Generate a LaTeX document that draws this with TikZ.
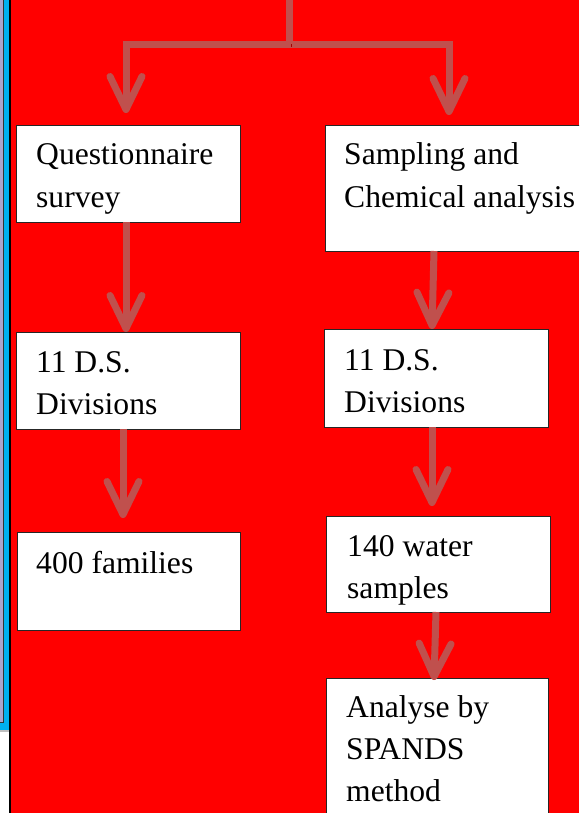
\documentclass[tikz,border=0pt]{standalone}
\usepackage{fontspec}
\setmainfont{Liberation Serif}
\usetikzlibrary{arrows.meta,calc}
\definecolor{bgred}{RGB}{255,0,0}
\definecolor{arr}{RGB}{192,80,77}
\definecolor{arrsh}{RGB}{165,0,0}
\definecolor{lav}{RGB}{172,164,204}
\definecolor{cyanb}{RGB}{0,176,240}
\begin{document}
\begin{tikzpicture}[x=1pt,y=1pt,
  box/.style={draw=black!85, line width=0.8pt, fill=white, anchor=north west, inner sep=0pt, outer sep=0pt},
  lbl/.style={anchor=base west, inner sep=0pt, text width=240pt, align=left, font=\fontsize{31.6}{42}\selectfont,
    execute at begin node={\spaceskip=0pt\relax\xspaceskip=0pt\relax}},
  stem/.style={line width=7pt, draw=arr, preaction={draw=arrsh, transform canvas={shift={(1.5pt,-2.5pt)}}}},
  flow/.style={stem, -{Straight Barb[length=33pt,width=32pt,round]}},
]
\useasboundingbox (0,0) rectangle (579,-813);
\clip (0,0) rectangle (579,-813);
% background
\fill[white] (0,0) rectangle (579,-813);
\fill[bgred] (11,0) rectangle (579,-813);
\fill[cyanb] (0,0) rectangle (9,-730);
\draw[gray!50, line width=1.5pt] (0,-731) -- (9,-731);
\fill[lav] (0,0) rectangle (3,-722);
\draw[black!80, line width=1pt] (3,0) -- (3,-722) -- (0,-722);
\fill[black] (9,0) rectangle (11,-813);
% boxes
\node[box, minimum width=224pt, minimum height=97pt] (b1) at (16,-125) {};
\node[box, minimum width=275pt, minimum height=126pt] (b2) at (325,-125) {};
\node[box, minimum width=224pt, minimum height=97pt] (b3) at (16,-332) {};
\node[box, minimum width=224pt, minimum height=98pt] (b4) at (324,-329) {};
\node[box, minimum width=223pt, minimum height=98pt] (b5) at (17,-532) {};
\node[box, minimum width=224pt, minimum height=96pt] (b6) at (326,-516) {};
\node[box, minimum width=222pt, minimum height=160pt] (b7) at (326,-678) {};
% texts
\node[lbl] (t1) at ([shift={(20pt,-40pt)}]b1.north west) {Questionnaire\\survey};
\node[lbl] (t2) at ([shift={(19pt,-40pt)}]b2.north west) {Sampling and\\Chemical analysis};
\node[lbl] (t3) at ([shift={(20pt,-40pt)}]b3.north west) {11 D.S.\\Divisions};
\node[lbl] (t4) at ([shift={(20pt,-41pt)}]b4.north west) {11 D.S.\\Divisions};
\node[lbl] (t5) at ([shift={(19pt,-41pt)}]b5.north west) {400 families};
\node[lbl] (t6) at ([shift={(21pt,-40pt)}]b6.north west) {140 water\\samples};
\node[lbl] (t7) at ([shift={(20pt,-39pt)}]b7.north west) {Analyse by\\SPANDS\\method};
% connectors
\coordinate (top) at (289.5,0);
\coordinate (j) at (289.5,-44.5);
\coordinate (e1) at ([shift={(110pt,12pt)}]b1.north west);
\coordinate (e2) at ([shift={(124pt,10pt)}]b2.north west);
\draw[flow] (j) -| (e1);
\draw[flow] (j) -| (e2);
\draw[stem] (top) -- (j);
\draw[flow] ([xshift=110pt]b1.south west) -- ([xshift=110pt]b3.north west);
\draw[flow] ([xshift=109pt]b2.south west) -- ([xshift=108pt]b4.north west);
\draw[flow] ([xshift=107pt]b3.south west) -- ([shift={(106pt,14pt)}]b5.north west);
\draw[flow] ([xshift=108pt]b4.south west) -- ([shift={(106pt,10pt)}]b6.north west);
\draw[flow] ([xshift=110pt]b6.south west) -- ([shift={(108pt,-2pt)}]b7.north west);
\end{tikzpicture}
\end{document}
